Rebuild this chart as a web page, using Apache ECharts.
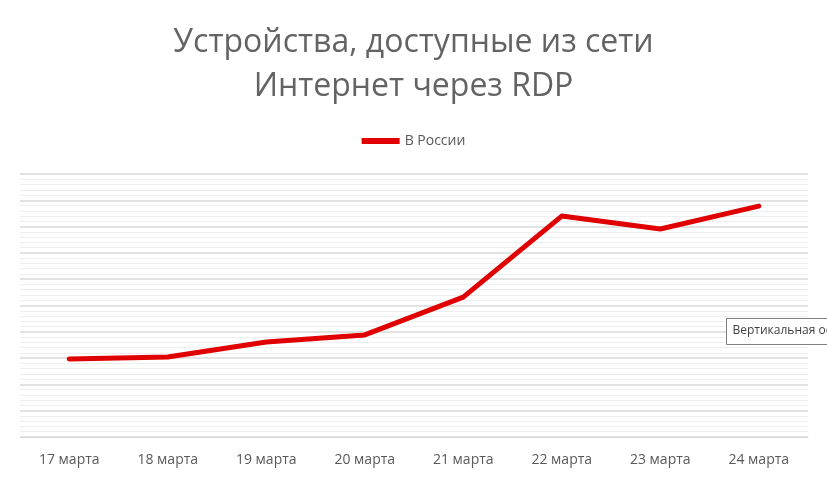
<!DOCTYPE html>
<html>
<head>
<meta charset="utf-8">
<script src="https://cdn.jsdelivr.net/npm/echarts@6/dist/echarts.min.js"></script>
<style>html,body{margin:0;padding:0;background:#fff;}#main{width:827px;height:480px;}</style>
</head>
<body>
<div id="main"></div>
<script>
var categories = ['17 марта', '18 марта', '19 марта', '20 марта', '21 марта', '22 марта', '23 марта', '24 марта'];
var russiaValues = [29.7, 30.4, 36.1, 38.8, 53.2, 84.0, 79.1, 87.8];

var myChart = echarts.init(document.getElementById('main'));

var option = {
    backgroundColor: '#fff',
    title: {
        text: 'Устройства, доступные из сети\nИнтернет через RDP',
        left: 'center',
        top: 16,
        textStyle: {
            fontFamily: 'Open Sans',
            fontWeight: 'normal',
            fontSize: 32,
            lineHeight: 44,
            color: '#636363'
        }
    },
    legend: {
        top: 129,
        left: 'center',
        itemWidth: 38,
        itemHeight: 6,
        icon: 'rect',
        textStyle: { fontFamily: 'Open Sans', fontSize: 14, color: '#595959' },
        data: ['В России']
    },
    grid: { left: 20, right: 19, top: 174, bottom: 43 },
    xAxis: {
        type: 'category',
        data: categories,
        axisLine: { show: true, lineStyle: { color: '#d9d9d9' } },
        axisTick: { show: false },
        axisLabel: { fontFamily: 'Open Sans', fontSize: 14, color: '#595959', margin: 16 }
    },
    yAxis: {
        type: 'value',
        min: 0,
        max: 100,
        interval: 10,
        axisLabel: { show: false },
        axisLine: { show: false },
        axisTick: { show: false },
        splitLine: { lineStyle: { color: '#d9d9d9', width: 1.5 } },
        minorTick: { show: false, splitNumber: 5 },
        minorSplitLine: { show: true, lineStyle: { color: '#eeeeee', width: 1 } }
    },
    series: [{
        name: 'В России',
        type: 'line',
        data: russiaValues,
        symbol: 'none',
        lineStyle: { color: '#e00000', width: 5, cap: 'round', join: 'round' },
        itemStyle: { color: '#e00000' }
    }],
    graphic: [{
        type: 'group',
        left: 726,
        top: 318,
        z: 100,
        children: [{
            type: 'rect',
            z: 100,
            shape: { x: 0, y: 0, width: 110, height: 26 },
            style: { fill: '#ffffff', stroke: '#808080', lineWidth: 1 }
        }, {
            type: 'text',
            z: 101,
            x: 6, y: 6,
            style: { text: 'Вертикальная ось', fontFamily: 'Open Sans', fontSize: 12, fill: '#404040' }
        }]
    }]
};

myChart.setOption(option);
</script>
</body>
</html>
